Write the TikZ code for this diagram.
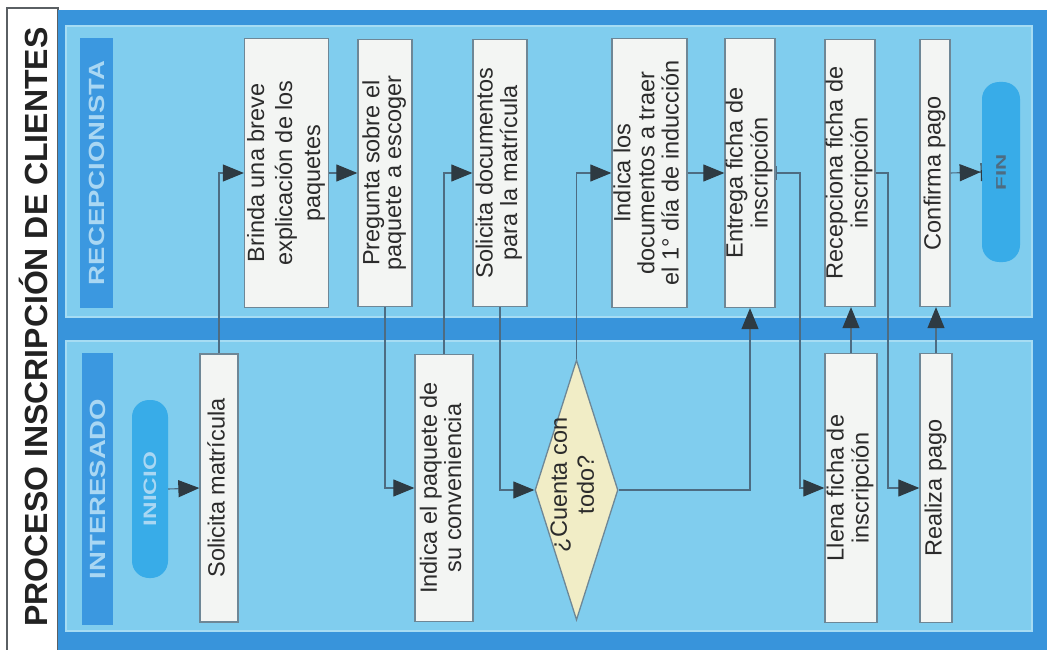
\documentclass[tikz,border=0pt]{standalone}
\usepackage{fontspec}
\setmainfont{Liberation Sans}
\usetikzlibrary{shapes.geometric,arrows.meta}

\definecolor{frameblue}{HTML}{3894DB}
\definecolor{lanefill}{HTML}{80CDEE}
\definecolor{laneedge}{HTML}{A6DCF3}
\definecolor{headblue}{HTML}{3B98E0}
\definecolor{headtext}{HTML}{A9D7F3}
\definecolor{termblue}{HTML}{38ACE8}
\definecolor{boxfill}{HTML}{F3F5F3}
\definecolor{boxedge}{HTML}{6E8796}
\definecolor{decfill}{HTML}{F1EDC6}
\definecolor{flowline}{HTML}{4D6C82}
\definecolor{tipgray}{HTML}{2E3A42}
\definecolor{inktext}{HTML}{2B2B2B}
\definecolor{stripedge}{HTML}{5A5F63}

% vertical (bottom-to-top) centred text block with a given leading
\newcommand{\vtext}[2]{\rotatebox{90}{\fontsize{23.5}{#1}\selectfont\begin{tabular}{@{}c@{}}#2\end{tabular}}}

\begin{document}
\begin{tikzpicture}[x=1pt,y=-1pt,
  box/.style={draw=boxedge, line width=1.3pt, fill=boxfill, inner sep=0pt, text=inktext},
  decision/.style={diamond, draw=boxedge, line width=1.3pt, fill=decfill, inner sep=0pt},
  terminal/.style={rectangle, rounded corners=17pt, fill=termblue, inner sep=0pt},
  headbar/.style={rectangle, fill=headblue, inner sep=0pt, text=headtext,
    font=\bfseries\fontsize{22}{22}\selectfont},
  tipshape/.style={Triangle[length=21pt,width=17pt,fill=tipgray,color=tipgray]},
  flow/.style={draw=flowline, line width=1.1pt, -{Triangle[length=21pt,width=17pt,fill=tipgray,color=tipgray]}}
]
\useasboundingbox (0,0) rectangle (1047,650);
\fill[white] (0,0) rectangle (1047,650);

% title strip
\draw[stripedge, line width=1.2pt, fill=white] (7,8) rectangle (58,662);
\node[text=inktext!80!black, font=\bfseries\fontsize{32}{32}\selectfont, inner sep=0pt]
  (title) at (33,327) {\rotatebox{90}{PROCESO INSCRIPCIÓN DE CLIENTES}};

% pool frame and the two lanes
\fill[frameblue] (58,10) rectangle (1047,650);
\draw[laneedge, line width=2pt, fill=lanefill] (66,26) rectangle (1032,317);
\draw[laneedge, line width=2pt, fill=lanefill] (66,341) rectangle (1032,631);

% lane headers
\node[headbar, minimum width=33pt, minimum height=270pt] (hrec) at (96.5,173)
  {\rotatebox{90}{\scalebox{1.25}[1]{RECEPCIONISTA}}};
\node[headbar, minimum width=31pt, minimum height=272pt] (hint) at (97.5,489)
  {\rotatebox{90}{\scalebox{1.25}[1]{INTERESADO}}};

% start / end
\node[terminal, minimum width=36pt, minimum height=178pt, text=headtext,
  font=\bfseries\fontsize{18}{18}\selectfont] (ini) at (150,489)
  {\rotatebox{90}{\scalebox{1.35}[1]{INICIO}}};
\node[terminal, minimum width=38pt, minimum height=180pt, text=flowline,
  font=\bfseries\fontsize{14}{14}\selectfont] (fin) at (1001,172)
  {\rotatebox{90}{\scalebox{1.6}[1]{FIN}}};

% activities
\node[box, minimum width=38pt, minimum height=268pt] (sol) at (219,488)
  {\vtext{28}{Solicita matrícula}};
\node[box, minimum width=83pt, minimum height=269pt] (bri) at (286.5,173)
  {\vtext{28}{Brinda una breve\\explicación de los\\paquetes}};
\node[box, minimum width=54pt, minimum height=267pt] (pre) at (385,173)
  {\vtext{21.5}{Pregunta sobre el\\paquete a escoger}};
\node[box, minimum width=58pt, minimum height=267pt] (ind) at (444,488)
  {\vtext{24}{Indica el paquete de\\su conveniencia}};
\node[box, minimum width=54pt, minimum height=267pt] (sdoc) at (500,173)
  {\vtext{24}{Solicita documentos\\para la matrícula}};
\node[decision, minimum width=83pt, minimum height=260pt] (dec) at (576.5,490) {};
\node[text=inktext, inner sep=0pt] (dect) at (575,485)
  {\vtext{27}{¿Cuenta con\\todo?}};
\node[box, minimum width=75pt, minimum height=269pt] (idoc) at (649.5,173)
  {\vtext{23.5}{Indica los\\documentos a traer\\el 1° día de inducción}};
\node[box, minimum width=50pt, minimum height=269pt] (ent) at (750,173)
  {\vtext{25}{Entrega ficha de\\inscripción}};
\node[box, minimum width=52pt, minimum height=269pt] (lle) at (851,488)
  {\vtext{25}{Llena ficha de\\inscripción}};
\node[box, minimum width=50pt, minimum height=267pt] (rec) at (850,173)
  {\vtext{25}{Recepciona ficha de\\inscripción}};
\node[box, minimum width=32pt, minimum height=269pt] (rea) at (936,488)
  {\vtext{28}{Realiza pago}};
\node[box, minimum width=30pt, minimum height=267pt] (con) at (935,173)
  {\vtext{28}{Confirma pago}};

% bend points of the connectors
\coordinate (k1) at (800,173);
\coordinate (k2) at (888,173);

% sequence flow
\draw[flow] (ini.east) -- (sol.west);
\draw[flow] (sol.north) |- (bri.west);
\draw[flow] (bri.east) -- (pre.west);
\draw[flow] (pre.south) |- (ind.west);
\draw[flow] (ind.north) |- (sdoc.west);
\draw[flow] (sdoc.south) |- (dec.west);
\draw[flow] (dec.north) |- (idoc.west);
\draw[flow] (dec.east) -| (ent.south);
\draw[flow] (idoc.east) -- (ent.west);
\draw[flow, {Bar[width=14pt,color=flowline]}-{Triangle[length=21pt,width=17pt,fill=tipgray,color=tipgray]}]
  (ent.east) -- (k1) |- (lle.west);
\draw[flow] (lle.north) -- (lle.north |- rec.south);
\draw[flow] (rec.east) -- (k2) |- (rea.west);
\draw[flow] (rea.north) -- (rea.north |- con.south);
\draw[flow, -{Triangle[length=21pt,width=17pt,fill=tipgray,color=tipgray]Bar[width=18pt,color=tipgray]}]
  (con.east) -- (fin.west);
\end{tikzpicture}
\end{document}
